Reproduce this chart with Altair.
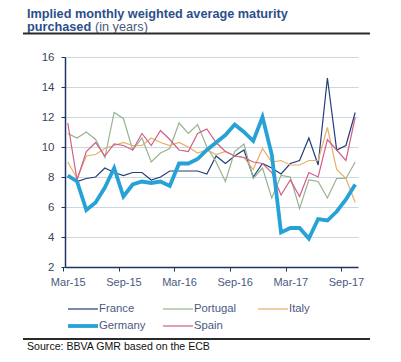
import altair as alt
import pandas as pd

months = ["Mar-15", "Apr-15", "May-15", "Jun-15", "Jul-15", "Aug-15", "Sep-15", "Oct-15",
          "Nov-15", "Dec-15", "Jan-16", "Feb-16", "Mar-16", "Apr-16", "May-16", "Jun-16",
          "Jul-16", "Aug-16", "Sep-16", "Oct-16", "Nov-16", "Dec-16", "Jan-17", "Feb-17",
          "Mar-17", "Apr-17", "May-17", "Jun-17", "Jul-17", "Aug-17", "Sep-17", "Oct-17"]
tick_labels = ["Mar-15", "Sep-15", "Mar-16", "Sep-16", "Mar-17", "Sep-17"]

france = [8.0, 7.7, 7.9, 8.0, 8.6, 8.3, 8.1, 8.3, 8.3, 7.8, 8.0, 8.4, 8.4, 8.4, 8.4, 8.2,
          9.4, 8.9, 9.4, 9.8, 8.0, 8.9, 8.6, 8.2, 8.9, 9.1, 10.6, 8.8, 14.6, 9.8, 10.1, 12.3]
portugal = [10.9, 10.6, 11.0, 10.5, 9.3, 12.3, 11.9, 9.8, 10.6, 9.0, 9.6, 9.9, 11.6, 10.9, 11.5, 10.0,
            9.0, 7.7, 9.7, 10.2, 7.9, 8.6, 6.6, 8.1, 8.0, 5.9, 7.8, 7.7, 6.6, 7.9, 7.9, 9.0]
italy = [9.0, 7.9, 9.4, 9.5, 9.9, 10.1, 10.3, 10.1, 10.1, 10.6, 10.3, 10.1, 10.3, 10.0, 9.6, 9.8,
         9.5, 9.7, 9.4, 9.3, 8.5, 9.9, 9.0, 9.1, 8.8, 8.8, 9.1, 9.1, 11.3, 8.5, 7.9, 6.3]
germany = [8.1, 7.7, 5.8, 6.3, 7.3, 8.6, 6.7, 7.5, 7.7, 7.6, 7.7, 7.4, 8.9, 8.9, 9.2, 9.8,
           10.3, 10.8, 11.5, 11.0, 10.4, 12.0, 9.5, 4.3, 4.6, 4.6, 3.9, 5.2, 5.1, 5.7, 6.5, 7.5]
spain = [11.6, 7.8, 9.7, 10.3, 9.4, 10.2, 10.1, 9.8, 10.9, 10.1, 11.1, 10.5, 9.8, 9.7, 10.9, 11.2,
         10.3, 9.7, 9.4, 9.3, 9.0, 8.9, 8.3, 6.8, 7.8, 6.7, 8.3, 8.0, 10.5, 9.8, 9.1, 12.0]

series_names = ["France", "Portugal", "Italy", "Germany", "Spain"]
series_values = [france, portugal, italy, germany, spain]
series_colors = ["#233f78", "#97b38f", "#e6ae6a", "#26a2d6", "#d25d86"]

rows = []
for name, vals in zip(series_names, series_values):
    for m, v in zip(months, vals):
        rows.append({"month": m, "value": v, "series": name})
df = pd.DataFrame(rows)

FONT = "Liberation Sans"
color_scale = alt.Scale(domain=series_names, range=series_colors)

x_enc = alt.X("month:O", sort=months,
              scale=alt.Scale(type="point", padding=0.3),
              axis=alt.Axis(values=tick_labels, title=None, labelAngle=0, grid=False,
                            domainColor="#1f3560", domainWidth=1.5,
                            tickColor="#1f3560", tickSize=4, tickOffset=-4.6, labelOffset=4.6,
                            labelPadding=5, labelFont=FONT, labelFontSize=11,
                            labelColor="#4a5a80"))
y_enc = alt.Y("value:Q", scale=alt.Scale(domain=[2, 16], nice=False),
              axis=alt.Axis(values=[2, 4, 6, 8, 10, 12, 14, 16], title=None,
                            grid=True, gridColor="#c9d8e3", gridWidth=1,
                            domainColor="#1f3560", domainWidth=1.5,
                            tickColor="#1f3560", tickSize=4, labelPadding=7,
                            labelFont=FONT, labelFontSize=11.5, labelColor="#3a4660"))

thin = alt.Chart(df[df.series != "Germany"]).mark_line(strokeWidth=1.2).encode(
    x=x_enc, y=y_enc,
    color=alt.Color("series:N", scale=color_scale, legend=None),
    detail="series:N",
)
thick = alt.Chart(df[df.series == "Germany"]).mark_line(strokeWidth=3.8).encode(
    x=x_enc, y=y_enc,
    color=alt.Color("series:N", scale=color_scale, legend=None),
)

one = pd.DataFrame({"a": [0]})
layers = [thin, thick]

# title
layers.append(alt.Chart(one).mark_text(text="Implied monthly weighted average maturity", font=FONT,
                                       fontSize=12.7, fontWeight="bold", color="#2c4f8c",
                                       align="left", baseline="alphabetic")
              .encode(x=alt.value(-38), y=alt.value(-39.5)))
layers.append(alt.Chart(one).mark_text(text="purchased", font=FONT, fontSize=12.7, fontWeight="bold",
                                       color="#2c4f8c", align="left", baseline="alphabetic")
              .encode(x=alt.value(-38), y=alt.value(-26)))
layers.append(alt.Chart(one).mark_text(text="(in years)", font=FONT, fontSize=12.7,
                                       color="#4a5a7a", align="left", baseline="alphabetic")
              .encode(x=alt.value(30), y=alt.value(-26)))
layers.append(alt.Chart(one).mark_rule(color="#2a2a2a", strokeWidth=2)
              .encode(x=alt.value(-42), x2=alt.value(305), y=alt.value(-23.5)))

# legend
leg_cols = [3, 98, 193]
leg_rows = [252, 269]
for i, (name, col) in enumerate(zip(series_names, series_colors)):
    cx = leg_cols[i % 3]
    cy = leg_rows[i // 3]
    sw = 3.8 if name == "Germany" else 1.2
    layers.append(alt.Chart(one).mark_rule(color=col, strokeWidth=sw)
                  .encode(x=alt.value(cx), x2=alt.value(cx + 30), y=alt.value(cy)))
    layers.append(alt.Chart(one).mark_text(text=name, font=FONT, fontSize=11.3, color="#4a5a80",
                                           align="left", baseline="middle")
                  .encode(x=alt.value(cx + 31), y=alt.value(cy)))

# source
layers.append(alt.Chart(one).mark_rule(color="#2a2a2a", strokeWidth=2)
              .encode(x=alt.value(-42), x2=alt.value(305), y=alt.value(282)))
layers.append(alt.Chart(one).mark_text(text="Source: BBVA GMR based on the ECB", font=FONT,
                                       fontSize=10.6, color="#111111", align="left",
                                       baseline="alphabetic")
              .encode(x=alt.value(-38), y=alt.value(293)))

chart = alt.layer(*layers).properties(
    width=293, height=210,
    autosize=alt.AutoSizeParams(type="none"),
    padding={"left": 57, "top": 49, "right": 35, "bottom": 85},
    background="white",
).configure_view(stroke=None)

chart.save("out.html", embed_options={"renderer": "svg", "actions": False})
